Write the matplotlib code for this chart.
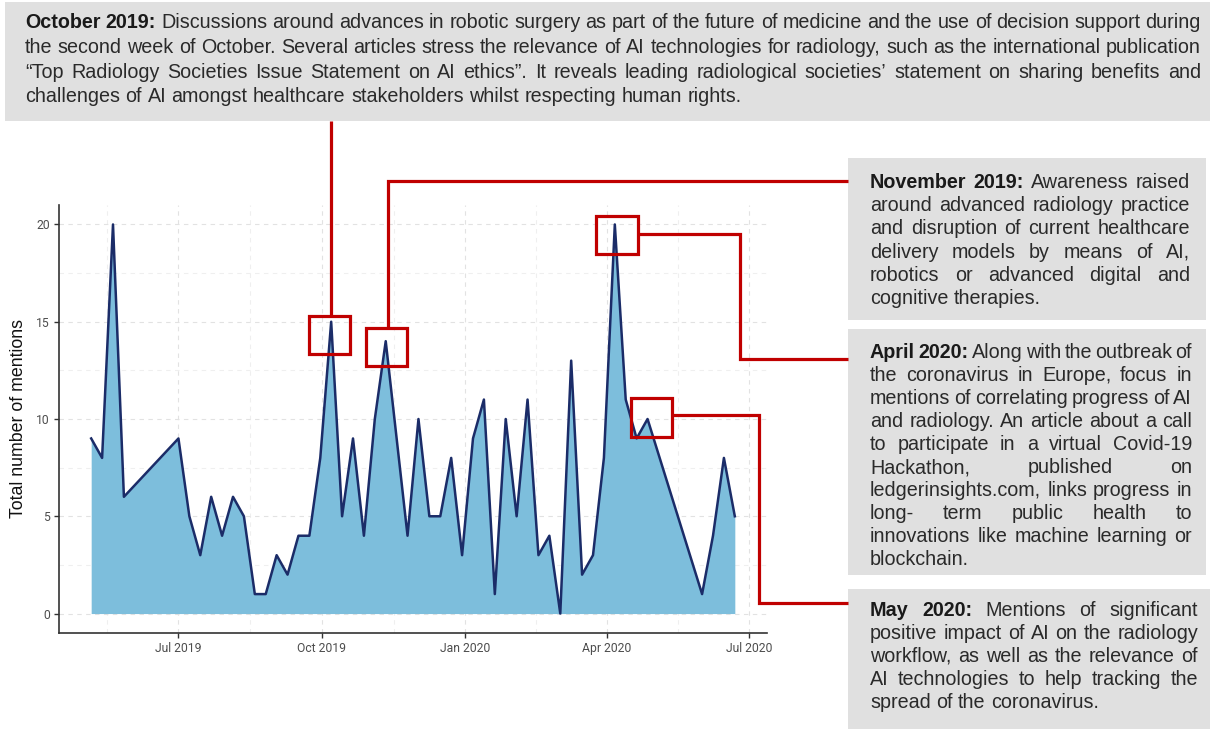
import matplotlib
matplotlib.use('Agg')
import matplotlib.pyplot as plt
import matplotlib.dates as mdates
import numpy as np
import pandas as pd
from matplotlib.patches import Rectangle

# ---------------- data ----------------
dates = ['2019-05-06', '2019-05-13', '2019-05-20', '2019-05-27', '2019-07-01',
         '2019-07-08', '2019-07-15', '2019-07-22', '2019-07-29', '2019-08-05',
         '2019-08-12', '2019-08-19', '2019-08-26', '2019-09-02', '2019-09-09',
         '2019-09-16', '2019-09-23', '2019-09-30', '2019-10-07', '2019-10-14',
         '2019-10-21', '2019-10-28', '2019-11-04', '2019-11-11', '2019-11-25',
         '2019-12-02', '2019-12-09', '2019-12-16', '2019-12-23', '2019-12-30',
         '2020-01-06', '2020-01-13', '2020-01-20', '2020-01-27', '2020-02-03',
         '2020-02-10', '2020-02-17', '2020-02-24', '2020-03-02', '2020-03-09',
         '2020-03-16', '2020-03-23', '2020-03-30', '2020-04-06', '2020-04-13',
         '2020-04-20', '2020-04-27', '2020-06-01', '2020-06-08', '2020-06-15',
         '2020-06-22']
mentions = [9, 8, 20, 6, 9,
            5, 3, 6, 4, 6,
            5, 1, 1, 3, 2,
            4, 4, 8, 15, 5,
            9, 4, 10, 14, 4,
            10, 5, 5, 8, 3,
            9, 11, 1, 10, 5,
            11, 3, 4, 0, 13,
            2, 3, 8, 20, 11,
            9, 10, 1, 4, 8,
            5]

x_tick_dates = ['2019-07-01', '2019-10-01', '2020-01-01', '2020-04-01', '2020-07-01']
x_tick_labels = ['Jul 2019', 'Oct 2019', 'Jan 2020', 'Apr 2020', 'Jul 2020']
y_ticks = [0, 5, 10, 15, 20]
y_label = 'Total number of mentions'

# highlighted points (date, value) for the red boxes
callout_dates = ['2019-10-07', '2019-11-11', '2020-04-06', '2020-04-27']
callout_values = [15, 14, 20, 10]

box_oct = ['October 2019:',
           'October 2019: Discussions around advances in robotic surgery as part of the future of medicine and the use of decision support during',
           'the second week of October. Several articles stress the relevance of AI technologies for radiology, such as the international publication',
           '\u201cTop Radiology Societies Issue Statement on AI ethics\u201d. It reveals leading radiological societies\u2019 statement on sharing benefits and',
           'challenges of AI amongst healthcare stakeholders whilst respecting human rights.']
box_nov = ['November 2019:',
           'November 2019: Awareness raised',
           'around advanced radiology practice',
           'and disruption of current healthcare',
           'delivery models by means of AI,',
           'robotics or advanced digital and',
           'cognitive therapies.']
box_apr = ['April 2020:',
           'April 2020: Along with the outbreak of',
           'the coronavirus in Europe, focus in',
           'mentions of correlating progress of AI',
           'and radiology. An article about a call',
           'to participate in a virtual Covid-19',
           'Hackathon, published on',
           'ledgerinsights.com, links progress in',
           'long- term public health to',
           'innovations like machine learning or',
           'blockchain.']
box_may = ['May 2020:',
           'May 2020: Mentions of significant',
           'positive impact of AI on the radiology',
           'workflow, as well as the relevance of',
           'AI technologies to help tracking the',
           'spread of the coronavirus.']

# ---------------- figure ----------------
W, H = 1212, 731
fig = plt.figure(figsize=(W / 100, H / 100), dpi=100)
fig.patch.set_facecolor('white')

ax_left, ax_right, ax_top, ax_bottom = 59, 767, 205, 633
ax = fig.add_axes([ax_left / W, 1 - ax_bottom / H, (ax_right - ax_left) / W, (ax_bottom - ax_top) / H])

d = pd.to_datetime(dates)
dn = mdates.date2num(d)
vals = np.array(mentions, dtype=float)

ax.fill_between(dn, 0, vals, color='#7dbedc', lw=0, zorder=2)
ax.plot(dn, vals, color='#1b2c68', lw=1.8, zorder=3, solid_joinstyle='round')

span = dn.max() - dn.min()
ax.set_xlim(dn.min() - 0.05 * span, dn.max() + 0.05 * span)
ax.set_ylim(-0.05 * vals.max(), 1.05 * vals.max())

xt = mdates.date2num(pd.to_datetime(x_tick_dates))
ax.set_xticks(xt)
ax.set_xticklabels(x_tick_labels)
step = xt[1] - xt[0]
minor_x = list(xt[:-1] + np.diff(xt) / 2)
minor_x = [xt[0] - step / 2] + minor_x
ax.set_xticks(minor_x, minor=True)
ax.set_yticks(y_ticks)
ax.set_yticks([v + 2.5 for v in y_ticks[:-1]], minor=True)

ax.grid(True, which='major', color='#e2e2e2', lw=0.8, ls=(0, (4, 4)), zorder=0)
ax.grid(True, which='minor', color='#efefef', lw=0.8, ls=(0, (4, 4)), zorder=0)
ax.set_axisbelow(True)

for s in ['top', 'right']:
    ax.spines[s].set_visible(False)
for s in ['left', 'bottom']:
    ax.spines[s].set_color('#333333')
    ax.spines[s].set_linewidth(1.2)

ax.tick_params(which='major', length=3.5, width=1, color='#333333',
               labelcolor='#4d4d4d', labelsize=8.7, pad=3)
ax.tick_params(which='minor', length=0)
for lab in ax.get_xticklabels() + ax.get_yticklabels():
    lab.set_fontfamily('Roboto')

ax.set_ylabel(y_label, fontsize=12.8, family='Liberation Sans', color='#111111')
ax.yaxis.set_label_coords((27 - ax_left) / (ax_right - ax_left), 0.5)

# ---------------- overlay (pixel coordinates) ----------------
ov = fig.add_axes([0, 0, 1, 1], zorder=10)
ov.set_xlim(0, W)
ov.set_ylim(H, 0)
ov.axis('off')
ov.patch.set_alpha(0)

GRAY = '#e0e0e0'
RED = '#c00000'
TXT = '#2a2a2a'
FS = 14.2

def to_px(date, value):
    x, y = ax.transData.transform((mdates.date2num(pd.Timestamp(date)), value))
    return x, H - y

renderer = fig.canvas.get_renderer()

def text_width(s, weight='normal'):
    t = ov.text(0, 0, s, fontsize=FS, family='Liberation Sans', fontweight=weight)
    w = t.get_window_extent(renderer).width
    t.remove()
    return w

space_w = text_width('a a') - text_width('aa')

def draw_box(box, rect, x0, x1, y_first, dy):
    rx, ry, rw, rh = rect
    ov.add_patch(Rectangle((rx, ry), rw, rh, facecolor=GRAY, edgecolor='none', zorder=1))
    heading = box[0]
    lines = box[1:]
    n_bold = len(heading.split(' '))
    for i, line in enumerate(lines):
        words = line.split(' ')
        weights = ['bold' if (i == 0 and k < n_bold) else 'normal' for k in range(len(words))]
        widths = [text_width(w, wt) for w, wt in zip(words, weights)]
        last = (i == len(lines) - 1)
        if last or len(words) == 1:
            gap = space_w
        else:
            gap = (x1 - x0 - sum(widths)) / (len(words) - 1)
            gap = max(gap, 0.4 * space_w)
        x = x0
        y = y_first + i * dy
        for w, wt, wd in zip(words, weights, widths):
            ov.text(x, y, w, fontsize=FS, family='Liberation Sans', fontweight=wt,
                    color='#1a1a1a' if wt == 'bold' else TXT, va='baseline', ha='left', zorder=3)
            x += wd + gap

draw_box(box_oct, (5, 2, 1205, 119), 25, 1201, 28, 24.8)
draw_box(box_nov, (848, 158, 358, 162), 870, 1190, 188, 23.2)
draw_box(box_apr, (848, 329, 358, 246), 870, 1192, 358, 23.0)
draw_box(box_may, (848, 589, 362, 140), 870, 1198, 616, 23.0)

# red boxes around highlighted points (offsets in pixels)
box_off = [(-22, 19, -6, 32), (-20, 21, -13, 25), (-19, 23, -8, 30), (-17, 24, -21, 18)]
boxes_px = []
for dt, v, (l, r, t, b) in zip(callout_dates, callout_values, box_off):
    px, py = to_px(dt, v)
    boxes_px.append((px + l, px + r, py + t, py + b, px))
    ov.add_patch(Rectangle((px + l, py + t), r - l, b - t, fill=False,
                           edgecolor=RED, lw=2.3, zorder=5, joinstyle='miter'))

lw_red = 2.3
# October: straight up to top box
l, r, t, b, px = boxes_px[0]
ov.plot([px, px], [t, 121], color=RED, lw=lw_red, zorder=5, solid_capstyle='butt')
# November: up then right
l, r, t, b, px = boxes_px[1]
ov.plot([px + 2, px + 2, 848], [t, 181, 181], color=RED, lw=lw_red, zorder=5,
        solid_capstyle='butt', solid_joinstyle='miter')
# April: right, down, right
l, r, t, b, px = boxes_px[2]
cy = (t + b) / 2 - 1
ov.plot([r, 740, 740, 848], [cy, cy, 359, 359], color=RED, lw=lw_red, zorder=5,
        solid_capstyle='butt', solid_joinstyle='miter')
# May: right, down, right
l, r, t, b, px = boxes_px[3]
cy = (t + b) / 2 - 3
ov.plot([r, 759, 759, 848], [cy, cy, 603, 603], color=RED, lw=lw_red, zorder=5,
        solid_capstyle='butt', solid_joinstyle='miter')

fig.savefig('out.png', dpi=100)
